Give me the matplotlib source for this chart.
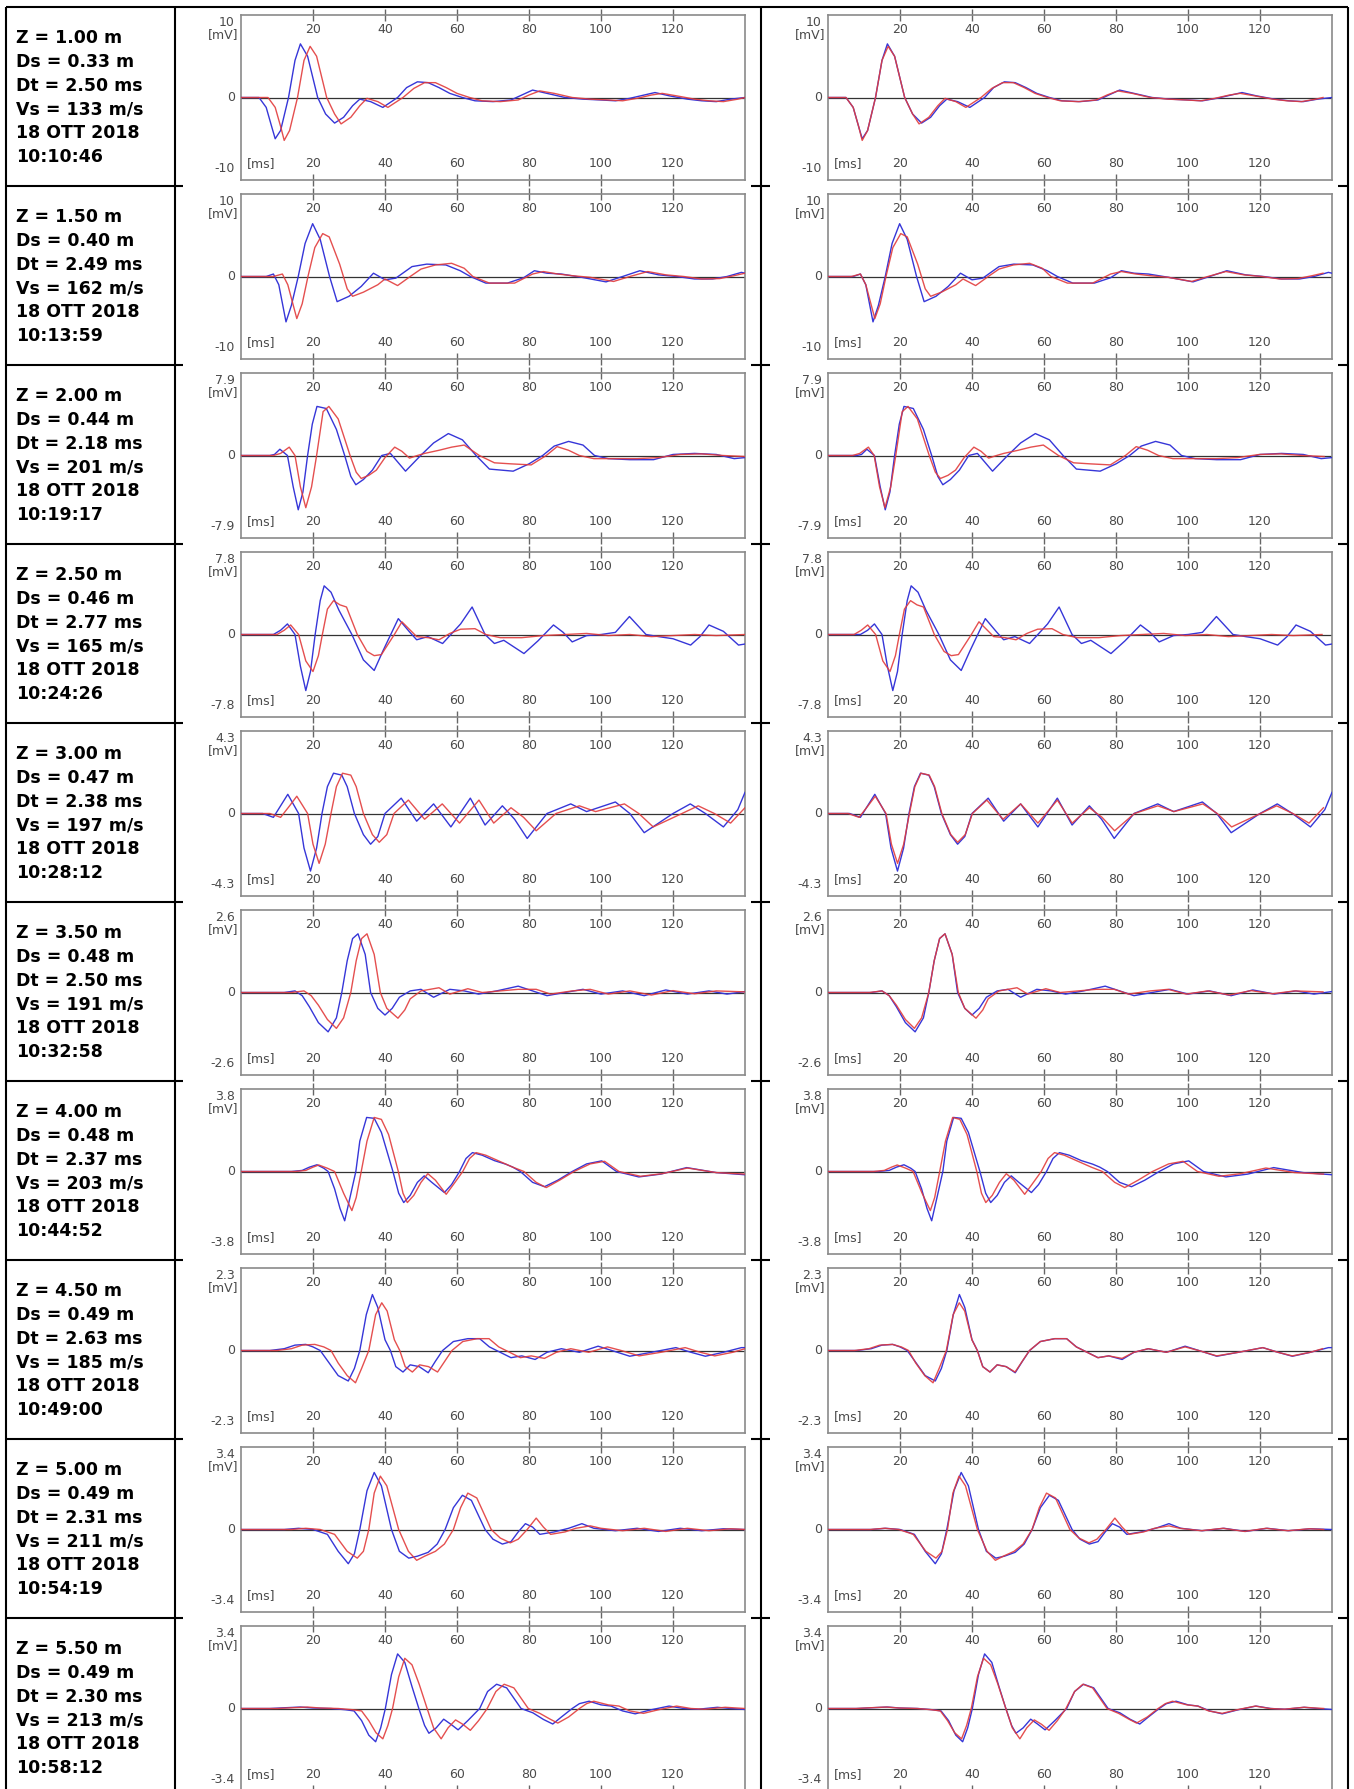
import matplotlib
matplotlib.use('Agg')
import matplotlib.pyplot as plt
import numpy as np

W, H = 1354, 1789

# ---- per-row header values ----
depth = ['1.00', '1.50', '2.00', '2.50', '3.00', '3.50', '4.00', '4.50', '5.00', '5.50']
ds = ['0.33', '0.40', '0.44', '0.46', '0.47', '0.48', '0.48', '0.49', '0.49', '0.49']
dt = [2.50, 2.49, 2.18, 2.77, 2.38, 2.50, 2.37, 2.63, 2.31, 2.30]
vs = [133, 162, 201, 165, 197, 191, 203, 185, 211, 213]
day = ['18 OTT 2018'] * 10
clock = ['10:10:46', '10:13:59', '10:19:17', '10:24:26', '10:28:12',
         '10:32:58', '10:44:52', '10:49:00', '10:54:19', '10:58:12']
ymax = [10, 10, 7.9, 7.8, 4.3, 2.6, 3.8, 2.3, 3.4, 3.4]
ylab = ['10', '10', '7.9', '7.8', '4.3', '2.6', '3.8', '2.3', '3.4', '3.4']
xticks = [20, 40, 60, 80, 100, 120]

# ---- traces, (ms, mV); b = blue, r = red ----
b1 = [(0, 0), (5, 0), (7, -1.2), (8.5, -3.5), (9.5, -5.0), (11, -4.0), (13.2, 0), (15, 4.5), (16.5, 6.5),
      (18.5, 5.0), (21.3, 0), (23.5, -2.0), (26, -3.1), (28.5, -2.4), (31, -1.0), (33, -0.2), (36, -0.5),
      (39.4, -1.2), (43.5, 0), (46, 1.2), (49, 1.9), (52, 1.8), (55, 1.2), (58, 0.5), (61.5, 0), (65, -0.4),
      (70, -0.5), (75, -0.3), (78, 0.3), (81, 0.9), (85, 0.5), (90, 0), (95, -0.2), (100, -0.3), (104, -0.4),
      (108, -0.1), (112, 0.3), (115, 0.6), (119, 0.2), (124, -0.2), (128, -0.4), (132, -0.5), (136, -0.2), (140, 0)]
r1 = [(0, 0), (7.5, 0), (9.5, -1.2), (11, -3.5), (12, -5.2), (13.5, -4.0), (15.7, 0), (17.5, 4.5), (19.2, 6.2),
      (21, 5.0), (23.8, 0), (26, -2.0), (27.8, -3.2), (30.5, -2.4), (33, -1.0), (35, -0.1), (38, -0.5),
      (40.8, -1.2), (45, 0), (48, 1.1), (51, 1.8), (54, 1.8), (57, 1.2), (60, 0.5), (63.5, 0), (67, -0.4),
      (72, -0.5), (77, -0.3), (80, 0.3), (83, 0.8), (87, 0.5), (92, 0), (97, -0.2), (102, -0.3), (106, -0.4),
      (110, -0.1), (114, 0.3), (117, 0.5), (121, 0.2), (126, -0.2), (130, -0.4), (134, -0.5), (138, -0.2), (140, 0)]

b2 = [(0, 0), (7, 0), (9, 0.3), (10.5, -1.0), (12.5, -5.5), (14, -3.5), (15.9, 0), (17.8, 4.0), (19.9, 6.4),
      (22, 4.5), (24.6, 0), (26.7, -3.05), (30, -2.4), (33.4, -1.2), (36.8, 0.4), (40, -0.4), (43, -0.2),
      (47.5, 1.2), (51.6, 1.5), (56.9, 1.4), (60.9, 0.7), (63.7, 0), (68, -0.8), (74, -0.8), (78.5, -0.15),
      (81.5, 0.7), (85, 0.4), (89, 0.3), (94.6, -0.1), (101.4, -0.65), (106, 0), (110.8, 0.7), (116, 0.2),
      (121, 0), (126, -0.3), (131, -0.3), (135, 0), (139, 0.5), (140, 0.4)]
r2 = [(0, 0), (9, 0), (11.5, 0.3), (13, -1.0), (15.5, -5.1), (17, -3.3), (18.6, 0), (20.5, 3.5), (22.7, 5.2),
      (24.5, 4.8), (27.4, 1.5), (29.5, -1.5), (31, -2.4), (34, -1.9), (38, -1.0), (40, -0.3), (43.5, -1.1),
      (47, 0), (50, 0.9), (54, 1.4), (58.5, 1.6), (62, 1.0), (64.4, 0), (69, -0.8), (76, -0.8), (81, 0.3),
      (84, 0.6), (88, 0.3), (92, 0.1), (97, -0.1), (103.5, -0.6), (108, 0), (113, 0.6), (118, 0.2), (123, 0),
      (128, -0.3), (133, -0.25), (137, 0.1), (140, 0.4)]

b3 = [(0, 0), (8, 0), (9.3, 0.1), (10.8, 0.6), (12.9, 0), (14.5, -3.0), (15.9, -5.2), (17.2, -3.5), (18.5, 0),
      (19.8, 3.0), (21.1, 4.7), (23.7, 4.5), (26.5, 2.5), (28.8, 0), (30.5, -2.0), (31.9, -2.8), (34, -2.3),
      (36.5, -1.4), (39.1, 0), (41.5, 0.2), (45.7, -1.5), (49.9, 0), (53.5, 1.2), (57.6, 2.1), (61.5, 1.5),
      (65.3, 0), (69, -1.3), (75.6, -1.5), (80, -0.8), (83.8, 0), (87, 0.9), (91, 1.35), (95, 1.0), (98.2, 0),
      (102, -0.3), (108, -0.4), (114.6, -0.4), (120, 0.1), (126, 0.2), (132, 0.1), (137, -0.3), (140, -0.2)]
r3 = [(0, 0), (9, 0), (11, 0.2), (13.4, 0.8), (15, 0), (16.5, -3.0), (18, -5.0), (19.6, -3.0), (21, 0),
      (22.8, 4.2), (24.4, 4.7), (27, 3.5), (30.3, 0), (32, -1.6), (33.4, -2.2), (35.5, -1.9), (37.6, -1.4),
      (40, -0.2), (42.7, 0.8), (44.7, 0.4), (46.8, -0.25), (49, 0), (51, 0.2), (55, 0.5), (58.5, 0.8),
      (62, 1.0), (66.2, 0), (70.4, -0.7), (75, -0.8), (80.6, -0.9), (84.8, 0), (87.8, 0.85), (91, 0.5), (94, 0),
      (98, -0.3), (104, -0.3), (110, -0.3), (116, -0.2), (122, 0.1), (128, 0.15), (134, 0), (140, -0.1)]

b4 = [(0, 0), (9, 0), (11, 0.4), (12.9, 1.0), (15, 0), (16.5, -3.0), (18, -5.3), (19.3, -3.5), (20.6, 0),
      (22, 3.2), (23.1, 4.6), (25, 4.0), (27.2, 2.3), (30.8, 0), (34, -2.4), (37, -3.4), (39.5, -1.5),
      (41.6, 0), (43.7, 1.5), (46.8, 0.25), (48.8, -0.5), (51.9, -0.2), (56, -0.85), (61, 1.0), (64.2, 2.6),
      (67.8, 0), (70.4, -0.85), (73, -0.55), (78.6, -1.8), (82.5, -0.6), (86.8, 0.9), (89.5, 0.2), (92, -0.7),
      (96, -0.1), (100, 0), (104, 0.2), (107.9, 1.7), (112.5, 0), (116, -0.2), (120, -0.4), (124.9, -1.0),
      (127.5, -0.2), (130, 0.9), (134, 0.3), (138.2, -1.0), (140, -0.9)]
r4 = [(0, 0), (10, 0), (12, 0.4), (13.8, 0.9), (16, 0), (18, -2.5), (20, -3.5), (21.5, -2.0), (22.6, 0),
      (24, 2.4), (25.7, 3.2), (27.5, 2.8), (29.3, 2.6), (32.3, 0), (35, -1.6), (37, -2.0), (39, -1.9),
      (42.6, 0), (44.7, 1.2), (48.8, -0.2), (52, -0.3), (55, -0.5), (58, 0.1), (61, 0.5), (65, 0.55), (68, 0),
      (72, -0.3), (78, -0.3), (84, -0.1), (90, 0), (96, 0.1), (102, -0.1), (108, 0), (114, -0.2), (120, -0.1),
      (126, 0), (132, -0.1), (140, 0)]

b5 = [(0, 0), (6, 0), (9, -0.2), (11, 0.4), (13, 1.0), (16, 0), (17.5, -1.8), (19.3, -3.0), (21, -1.8),
      (22.5, 0), (24, 1.4), (25.7, 2.1), (28, 2.0), (29.5, 1.4), (31.5, 0), (34, -1.1), (36, -1.6), (38, -1.2),
      (40, 0), (44.5, 0.8), (48.8, -0.4), (53.5, 0.5), (58.3, -0.7), (63.7, 0.8), (67.8, -0.6), (72.6, 0.4),
      (76, -0.3), (79.5, -1.3), (85, 0), (91.6, 0.5), (96, 0.1), (104, 0.6), (108, 0), (112, -1.0), (120, 0),
      (124.8, 0.5), (129, 0), (134, -0.7), (138, 0.2), (140, 1.1)]
r5 = [(0, 0), (8, 0), (11, -0.2), (13.5, 0.4), (15.5, 0.9), (18.5, 0), (20, -1.6), (21.7, -2.6), (23.4, -1.6),
      (25, 0), (26.5, 1.4), (28.2, 2.1), (30.5, 2.0), (32, 1.4), (34, 0), (36.5, -1.1), (38.4, -1.5),
      (40.5, -1.1), (42.5, 0), (46.5, 0.7), (51, -0.3), (55.9, 0.5), (60.7, -0.5), (66.1, 0.7), (70.2, -0.5),
      (75, 0.3), (78.5, -0.2), (82, -0.9), (87.5, 0), (94, 0.4), (98.5, 0.1), (106.5, 0.5), (110.5, 0),
      (114.5, -0.7), (122.5, 0), (127, 0.4), (131.5, 0), (136, -0.5), (140, 0.3)]

b6 = [(0, 0), (12, 0), (15, 0.05), (17, -0.1), (19, -0.45), (21.5, -0.95), (24.2, -1.24), (26.5, -0.8),
      (28, 0), (29.5, 1.0), (31, 1.7), (32.5, 1.85), (34.5, 1.2), (36, 0), (38, -0.5), (40, -0.71), (42, -0.5),
      (44, -0.15), (47, 0.05), (50, 0.1), (53.5, -0.15), (58, 0.1), (62, 0.05), (66, -0.05), (71, 0.05),
      (77, 0.2), (81, 0.05), (85, -0.1), (90, 0), (95, 0.1), (100, -0.05), (106, 0.05), (112, -0.1),
      (118, 0.08), (124, -0.05), (130, 0.05), (135, -0.05), (140, 0.03)]
r6 = [(0, 0), (14, 0), (17.5, 0.05), (19.5, -0.1), (21.5, -0.4), (24, -0.85), (26.5, -1.13), (28.5, -0.8),
      (30.5, 0), (32, 1.0), (33.5, 1.7), (35, 1.85), (37, 1.2), (38.7, 0), (40.5, -0.5), (43.6, -0.81),
      (45.5, -0.55), (47, -0.2), (50, 0.05), (55, 0.15), (58, -0.05), (63, 0.12), (67, 0), (72, 0.05),
      (77, 0.1), (82, 0.1), (86, -0.05), (92, 0.05), (97, 0.1), (102, -0.05), (108, 0.05), (114, -0.08),
      (120, 0.06), (126, -0.04), (132, 0.05), (140, 0.02)]

b7 = [(0, 0), (14, 0), (17, 0.05), (19, 0.2), (21.1, 0.31), (23, 0.15), (24.2, 0), (26, -0.8), (27.5, -1.7),
      (28.8, -2.27), (30, -1.4), (31.9, 0), (33, 1.4), (34.9, 2.49), (37, 2.45), (39, 1.8), (42.2, 0),
      (43.8, -1.0), (45.2, -1.43), (47, -1.1), (49, -0.5), (50.9, -0.2), (53, -0.5), (56.5, -0.97),
      (58.5, -0.6), (60.7, 0), (62.5, 0.6), (64.3, 0.87), (67, 0.75), (70.4, 0.5), (73.5, 0.34), (75.5, 0.2),
      (77.6, 0), (81, -0.5), (84.3, -0.7), (88, -0.4), (92, 0), (96, 0.35), (100.2, 0.49), (104.3, 0),
      (110.5, -0.25), (116.6, -0.12), (123.8, 0.18), (132, -0.05), (136, -0.1), (140, -0.15)]
r7 = [(0, 0), (15, 0), (18, 0.05), (20, 0.2), (21.6, 0.3), (24, 0.15), (26, 0), (28.5, -1.0), (30.8, -1.8),
      (32, -1.2), (33.4, 0), (35, 1.4), (37, 2.49), (39, 2.4), (41, 1.7), (43.7, 0), (45, -1.0), (46.2, -1.43),
      (48, -1.1), (50, -0.5), (51.9, -0.1), (54, -0.4), (57, -1.05), (59, -0.6), (61.6, 0), (63.5, 0.6),
      (65.3, 0.87), (68, 0.75), (71.4, 0.5), (75.5, 0.2), (78.6, 0), (82, -0.5), (84.8, -0.74), (88.5, -0.4),
      (92.5, 0), (97, 0.35), (101, 0.47), (105, 0), (111, -0.22), (117, -0.1), (124, 0.16), (132, -0.05),
      (140, -0.12)]

b8 = [(0, 0), (8, 0), (12, 0.05), (15, 0.15), (18, 0.17), (20, 0.1), (22, 0), (24.5, -0.35), (27, -0.7),
      (29.8, -0.85), (31.5, -0.5), (33, 0), (34.8, 1.0), (36.5, 1.56), (38, 1.2), (40, 0.3), (41.5, 0),
      (43, -0.45), (45, -0.6), (47, -0.4), (49.5, -0.45), (52, -0.62), (54, -0.3), (56, 0), (59, 0.25),
      (63, 0.33), (66.3, 0.33), (69, 0.1), (71, 0), (75, -0.2), (78, -0.15), (81.7, -0.25), (85, -0.05),
      (89, 0.05), (94, -0.05), (99.2, 0.12), (103, 0), (108, -0.16), (114, -0.05), (120.8, 0.08), (125, -0.05),
      (129, -0.16), (134, -0.05), (139, 0.08), (140, 0.08)]
r8 = [(0, 0), (10, 0), (14, 0.05), (17, 0.15), (20.5, 0.17), (23, 0.1), (25, 0), (27, -0.35), (29.5, -0.7),
      (31.8, -0.9), (33.5, -0.5), (35.5, 0), (37.4, 1.0), (39.1, 1.33), (40.6, 1.1), (42.6, 0.3), (44.1, 0),
      (45.6, -0.45), (47.6, -0.6), (49.6, -0.4), (52.1, -0.45), (54.6, -0.6), (56.6, -0.3), (58.6, 0),
      (61.6, 0.25), (65.6, 0.33), (68.9, 0.33), (71.6, 0.1), (73.6, 0), (77.6, -0.2), (80.6, -0.15),
      (84.3, -0.22), (87.6, -0.05), (91.6, 0.05), (96.6, -0.05), (101.8, 0.1), (105.6, 0), (110.6, -0.15),
      (116.6, -0.05), (123.4, 0.08), (127.6, -0.05), (131.6, -0.15), (136.6, -0.05), (140, 0.05)]

b9 = [(0, 0), (12, 0), (16, 0.05), (20, 0), (24, -0.2), (27, -0.9), (29.8, -1.41), (31.5, -1.0), (33, 0),
      (35, 1.6), (37, 2.35), (39, 1.8), (41.8, 0), (44, -0.9), (46.6, -1.18), (49, -1.1), (52, -0.94),
      (54.5, -0.6), (56.7, 0), (59, 0.9), (61.5, 1.41), (64, 1.2), (67.8, 0), (70, -0.4), (72.6, -0.6),
      (75, -0.5), (77, -0.1), (79, 0.24), (81, 0.1), (83, -0.2), (87, -0.1), (91, 0.05), (94.7, 0.24),
      (98, 0.05), (104, -0.05), (110, 0.05), (116, -0.08), (122, 0.05), (128, -0.05), (134, 0.03), (140, 0)]
r9 = [(0, 0), (14, 0), (18, 0.05), (22, 0), (26, -0.2), (29.5, -0.9), (32.3, -1.18), (34, -0.9), (35.5, 0),
      (37, 1.5), (38.7, 2.2), (40.5, 1.8), (43.8, 0), (46.5, -0.9), (48.8, -1.27), (51, -1.1), (54, -0.9),
      (56.5, -0.6), (59, 0), (61, 0.9), (63, 1.5), (65.5, 1.3), (69.5, 0), (72, -0.35), (74.8, -0.55),
      (77, -0.4), (79.5, 0), (82, 0.47), (84, 0.1), (86, -0.2), (90, -0.1), (93, 0.05), (97, 0.15),
      (100, 0.05), (106, -0.05), (112, 0.05), (118, -0.08), (124, 0.05), (130, -0.05), (136, 0.03), (140, 0)]

b10 = [(0, 0), (8, 0), (12, 0.03), (16.5, 0.06), (20, 0.02), (25, 0), (29, -0.05), (31.4, -0.1),
       (33.5, -0.5), (35.5, -1.1), (37.4, -1.37), (38.8, -0.8), (40.1, 0), (41.8, 1.4), (43.5, 2.25),
       (45.5, 1.9), (47.5, 0.9), (49.4, 0), (51, -0.7), (52.2, -1.02), (54.2, -0.8), (56.3, -0.44),
       (58.3, -0.65), (60.3, -0.88), (63, -0.5), (66.3, 0), (68.5, 0.7), (71, 1.0), (73.8, 0.85), (77.8, 0),
       (81.1, -0.18), (84, -0.45), (86.6, -0.64), (89, -0.35), (92, 0), (94, 0.2), (96.7, 0.3), (100, 0.15),
       (102.8, 0.1), (106, -0.1), (109.5, -0.22), (114, -0.05), (118.9, 0.1), (123, 0), (127, -0.03),
       (132.3, 0.05), (136, 0), (140, -0.04)]
r10 = [(0, 0), (10, 0), (14, 0.03), (18.5, 0.06), (22, 0.02), (27, 0), (31, -0.05), (33.5, -0.1),
       (35.5, -0.5), (37.5, -1.0), (39.4, -1.25), (40.8, -0.7), (42.1, 0), (43.8, 1.3), (45.5, 2.07),
       (47.5, 1.8), (49.5, 1.0), (51.7, 0), (53.5, -0.8), (55.6, -1.25), (57.5, -0.8), (59.6, -0.47),
       (61.6, -0.65), (63.7, -0.9), (66, -0.5), (68.4, 0), (70.8, 0.7), (73.1, 1.0), (75.8, 0.85), (79.8, 0),
       (83, -0.2), (86, -0.45), (88, -0.6), (91, -0.35), (94, 0), (96, 0.2), (98, 0.3), (102, 0.15),
       (105, 0.1), (108, -0.1), (111.8, -0.2), (116, -0.05), (121, 0.1), (125, 0), (129, -0.03), (134.5, 0.05),
       (140, 0)]

blue = [b1, b2, b3, b4, b5, b6, b7, b8, b9, b10]
red = [r1, r2, r3, r4, r5, r6, r7, r8, r9, r10]

BLUE = '#3636d8'
RED = '#e23c3c'
GREY = '#4a4a4a'

TOP = 7        # px, top border of the table
ROW_H = 179    # px per table row
AX_W, AX_H = 504, 165
LEFT_X, RIGHT_X = 241, 828

fig = plt.figure(figsize=(W / 100, H / 100), dpi=100)
fig.patch.set_facecolor('white')

# table drawn in pixel coordinates
bg = fig.add_axes([0, 0, 1, 1])
bg.set_xlim(0, W)
bg.set_ylim(H, 0)
bg.axis('off')

tab = dict(color='black', lw=1.5, solid_capstyle='butt')
for x in (6, 175, 761, 1348):
    bg.plot([x, x], [TOP, H], **tab)
bg.plot([6, 1348], [TOP, TOP], **tab)
for k in range(1, 10):
    y = TOP + ROW_H * k
    for x0, x1 in ((6, 183), (751, 770), (1338, 1348)):
        bg.plot([x0, x1], [y, y], **tab)

for k in range(10):
    rows = ['Z = %s m' % depth[k], 'Ds = %s m' % ds[k], 'Dt = %.2f ms' % dt[k],
            'Vs = %d m/s' % vs[k], day[k], clock[k]]
    for i, s in enumerate(rows):
        bg.text(16, TOP + ROW_H * k + 36 + 23.85 * i, s, fontsize=12.5, fontweight='bold',
                family='DejaVu Sans', ha='left', va='baseline', color='black')


def draw_panel(k, x0, shifted):
    y0 = 15 + ROW_H * k
    ax = fig.add_axes([x0 / W, 1 - (y0 + AX_H) / H, AX_W / W, AX_H / H])
    ax.set_xlim(0, 140)
    ax.set_ylim(-ymax[k], ymax[k])
    ax.axhline(0, color='#333333', lw=0.9, zorder=1)

    bt, bv = zip(*blue[k])
    rt, rv = zip(*red[k])
    rt = np.array(rt)
    if shifted:
        rt = rt - dt[k]
    ax.plot(bt, bv, color=BLUE, lw=1.0, zorder=3, solid_joinstyle='round')
    ax.plot(rt, rv, color=RED, lw=1.0, alpha=0.9, zorder=4, solid_joinstyle='round')

    for s in ax.spines.values():
        s.set_color('#8a8a8a')
        s.set_linewidth(1.2)
    ax.set_yticks([])
    ax.set_xticks(xticks)
    ax.tick_params(axis='x', direction='inout', length=9, width=1, color='#666666',
                   top=True, bottom=True, labelbottom=False, labeltop=False)

    tr = ax.get_xaxis_transform()
    lab = dict(fontsize=9, color=GREY, ha='center', va='center', family='DejaVu Sans')
    for t in xticks:
        ax.text(t, 0.912, str(t), transform=tr, **lab)
        ax.text(t, 0.1, str(t), transform=tr, **lab)
    ax.text(5.6, 0.1, '[ms]', transform=tr, **lab)

    yl = dict(fontsize=9, color=GREY, ha='right', va='center', family='DejaVu Sans',
              transform=ax.transAxes)
    ax.text(-0.012, 0.955, ylab[k], **yl)
    ax.text(-0.006, 0.88, '[mV]', **yl)
    ax.text(-0.012, 0.5, '0', **yl)
    ax.text(-0.012, 0.067, '-' + ylab[k], **yl)


for k in range(10):
    draw_panel(k, LEFT_X, False)
    draw_panel(k, RIGHT_X, True)

fig.savefig('out.png', dpi=100, facecolor='white')
